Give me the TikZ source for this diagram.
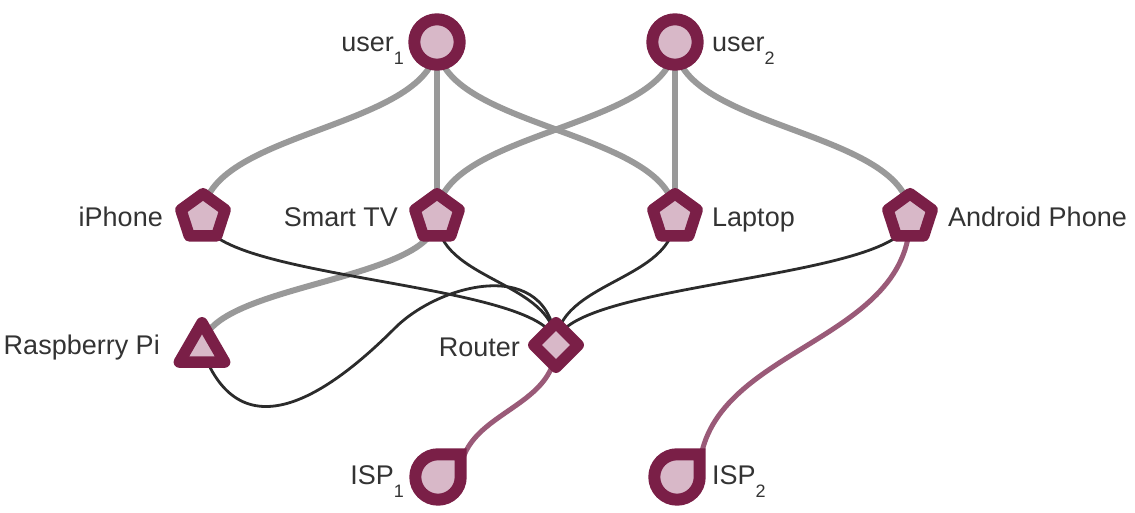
\documentclass[tikz,border=0pt]{standalone}
\usepackage{fontspec}
\setmainfont{Liberation Sans}
\usetikzlibrary{shapes.geometric,calc}
\definecolor{maroon}{HTML}{7A1F47}
\definecolor{pinkfill}{HTML}{D8B8C8}
\definecolor{edgegrey}{HTML}{999999}
\definecolor{edgedark}{HTML}{2B2B2B}
\definecolor{edgemauve}{HTML}{9A5A78}
\definecolor{labeltext}{HTML}{333333}
\pgfdeclarelayer{background}
\pgfsetlayers{background,main}
\newcommand{\subnum}[1]{{\fontsize{18}{18}\selectfont\raisebox{-13pt}{#1}}}
\begin{document}
\begin{tikzpicture}[x=1pt,y=1pt,
  nodebase/.style={draw=maroon, fill=pinkfill, line width=11.5pt, line join=round, inner sep=0pt, outer sep=0pt},
  usernode/.style={nodebase, circle, line width=12pt, minimum size=45.4pt},
  devnode/.style={nodebase, regular polygon, regular polygon sides=5, minimum size=46.6pt},
  pinode/.style={nodebase, regular polygon, regular polygon sides=3, minimum size=52.4pt},
  routernode/.style={nodebase, diamond, aspect=1, minimum width=44.4pt, minimum height=44.4pt},
  ispnode/.style={circle, inner sep=0pt, minimum size=58pt},
  teardrop/.style={draw=maroon, fill=pinkfill, line width=12pt, line join=miter},
  lbl/.style={text=labeltext, font=\fontsize{27}{30}\selectfont, inner sep=0pt},
  vs/.style={to path={let \p1=(\tikztostart), \p2=(\tikztotarget), \p3=($(\p1)!0.5!(\p2)$) in .. controls (\x1,\y3) and (\x2,\y3) .. (\tikztotarget)}},
  greyedge/.style={draw=edgegrey, line width=6pt},
  darkedge/.style={draw=edgedark, line width=2.8pt},
  mauveedge/.style={draw=edgemauve, line width=5pt},
]
\useasboundingbox (0,0) rectangle (1135,513);

% nodes
\node[usernode] (user1) at (437,471) {};
\node[usernode] (user2) at (675,471) {};
\node[devnode] (iphone) at (203,296) {};
\node[devnode] (smarttv) at (437,296) {};
\node[devnode] (laptop) at (675,296) {};
\node[devnode] (android) at (910,296) {};
\node[pinode] (pi) at (202,164) {};
\node[routernode] (router) at (556,168) {};
\node[ispnode] (isp1) at (438,36) {};
\node[ispnode] (isp2) at (677,36) {};
\draw[teardrop] (isp1.center) ++(0,22.7) -- ++(22.7,0) -- ++(0,-22.7) arc[start angle=0, end angle=-270, radius=22.7] -- cycle;
\draw[teardrop] (isp2.center) ++(0,22.7) -- ++(22.7,0) -- ++(0,-22.7) arc[start angle=0, end angle=-270, radius=22.7] -- cycle;
\coordinate (piwave) at (395,185);

% labels
\node[lbl, anchor=base east] (luser1) at (404,461.3) {user\subnum{1}};
\node[lbl, anchor=base west] (luser2) at (712,461.3) {user\subnum{2}};
\node[lbl, anchor=base east] (liphone) at (163,286.3) {iPhone};
\node[lbl, anchor=base east] (lsmarttv) at (398,286.3) {Smart TV};
\node[lbl, anchor=base west] (llaptop) at (712,286.3) {Laptop};
\node[lbl, anchor=base west] (landroid) at (948,286.3) {Android Phone};
\node[lbl, anchor=base east] (lpi) at (160,158.3) {Raspberry Pi};
\node[lbl, anchor=base east] (lrouter) at (520,156.3) {Router};
\node[lbl, anchor=base east] (lisp1) at (404,28) {ISP\subnum{1}};
\node[lbl, anchor=base west] (lisp2) at (712,28) {ISP\subnum{2}};

% connectors
\begin{pgfonlayer}{background}
\draw[greyedge] (user1.center) to[vs] (iphone.center);
\draw[greyedge] (user1.center) -- (smarttv.center);
\draw[greyedge] (user1.center) to[vs] (laptop.center);
\draw[greyedge] (user2.center) to[vs] (smarttv.center);
\draw[greyedge] (user2.center) -- (laptop.center);
\draw[greyedge] (user2.center) to[vs] (android.center);
\draw[greyedge] (smarttv.center) to[vs] (pi.center);
\draw[darkedge] (iphone.center) to[vs] (router.center);
\draw[darkedge] (smarttv.center) to[vs] (router.center);
\draw[darkedge] (laptop.center) to[vs] (router.center);
\draw[darkedge] (android.center) to[vs] (router.center);
\draw[darkedge] (pi.center) .. controls +(40,-110) and +(-60,-60) .. (piwave) .. controls +(45,45) and +(-6,90) .. (router.center);
\draw[mauveedge] (router.center) to[vs] ([xshift=22pt]isp1.center);
\draw[mauveedge] (android.center) to[vs] ([xshift=22pt]isp2.center);
\end{pgfonlayer}
\end{tikzpicture}
\end{document}
